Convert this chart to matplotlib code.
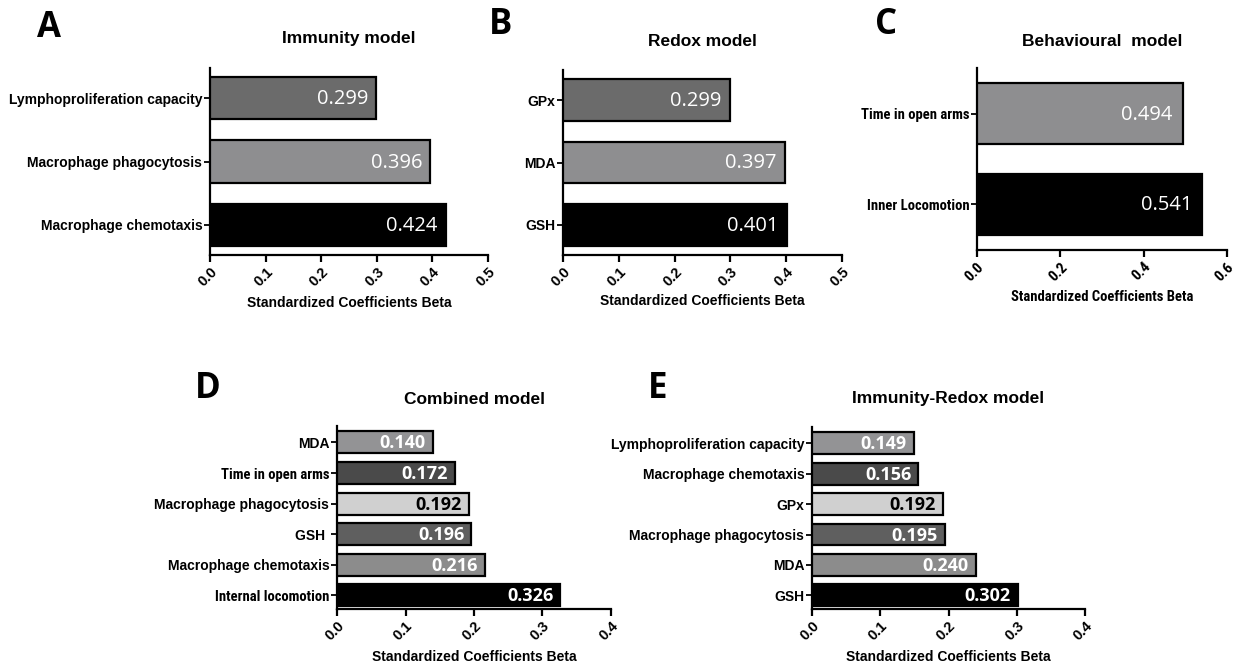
import matplotlib
matplotlib.use("Agg")
import matplotlib.pyplot as plt
from matplotlib import font_manager as fm
from matplotlib.font_manager import FontProperties

W, H = 1234, 667

# ---------------- data ----------------
A_title = "Immunity model"
A_cats = ["Lymphoproliferation capacity", "Macrophage phagocytosis", "Macrophage chemotaxis"]
A_vals = [0.299, 0.396, 0.424]
A_cols = ["#6b6b6b", "#8e8e90", "#000000"]
A_ticks = [0.0, 0.1, 0.2, 0.3, 0.4, 0.5]

B_title = "Redox model"
B_cats = ["GPx", "MDA", "GSH"]
B_vals = [0.299, 0.397, 0.401]
B_cols = ["#6b6b6b", "#8e8e90", "#000000"]
B_ticks = [0.0, 0.1, 0.2, 0.3, 0.4, 0.5]

C_title = "Behavioural  model"
C_cats = ["Time in open arms", "Inner Locomotion"]
C_vals = [0.494, 0.541]
C_cols = ["#8e8e90", "#000000"]
C_ticks = [0.0, 0.2, 0.4, 0.6]

D_title = "Combined model"
D_cats = ["MDA", "Time in open arms", "Macrophage phagocytosis", "GSH ",
          "Macrophage chemotaxis", "Internal locomotion"]
D_vals = [0.140, 0.172, 0.192, 0.196, 0.216, 0.326]
D_cols = ["#939395", "#4a4a4a", "#d0d0d0", "#5f5f5f", "#8c8c8c", "#000000"]
D_txt = ["white", "white", "black", "white", "white", "white"]
D_ticks = [0.0, 0.1, 0.2, 0.3, 0.4]

E_title = "Immunity-Redox model"
E_cats = ["Lymphoproliferation capacity", "Macrophage chemotaxis", "GPx",
          "Macrophage phagocytosis", "MDA", "GSH"]
E_vals = [0.149, 0.156, 0.192, 0.195, 0.240, 0.302]
E_cols = ["#939395", "#4a4a4a", "#d0d0d0", "#5f5f5f", "#8c8c8c", "#000000"]
E_txt = ["white", "white", "black", "white", "white", "white"]
E_ticks = [0.0, 0.1, 0.2, 0.3, 0.4]

XLABEL = "Standardized Coefficients Beta"

SANS = ["Liberation Sans", "DejaVu Sans"]
VALF = ["Open Sans", "DejaVu Sans"]
LETTERF = ["Open Sans", "DejaVu Sans"]

# find a condensed bold font if one is installed
NARROW_PATH = None
_cands = []
for f in fm.fontManager.ttflist:
    st = str(f.stretch)
    if ("Narrow" in f.name or "Condensed" in f.name or st in ("condensed", "semi-condensed")) \
            and (f.weight in ("bold", 700) or str(f.weight) == "700") and f.style == "normal":
        _cands.append(f)
pref = ["Liberation Sans Narrow", "Roboto Condensed", "Open Sans Condensed", "DejaVu Sans"]
_cands.sort(key=lambda f: pref.index(f.name) if f.name in pref else 99)
if _cands:
    NARROW_PATH = _cands[0].fname


def narrow_fp(size):
    if NARROW_PATH:
        return FontProperties(fname=NARROW_PATH, size=size)
    return FontProperties(family=SANS, weight="bold", size=size * 0.9)


def sans_fp(size):
    return FontProperties(family=SANS, weight="bold", size=size)


fig = plt.figure(figsize=(W / 100, H / 100), dpi=100)
fig.patch.set_facecolor("white")


def px_text(x, y, s, **kw):
    fig.text(x / W, 1 - y / H, s, **kw)


def panel(box, cats, vals, cols, ticks, title, letter, letter_xy, title_y, xlabel_y,
          txtcols=None, val_size=14.5, val_weight="normal", bar_h=0.67,
          ylim=None, narrow_cats=(), narrow_axis=False, val_off=-8):
    x0, x1, y0, y1 = box
    ax = fig.add_axes([x0 / W, 1 - y1 / H, (x1 - x0) / W, (y1 - y0) / H])
    n = len(cats)
    pos = list(range(n))
    ax.barh(pos, vals, height=bar_h, color=cols, edgecolor="black", linewidth=1.6, zorder=3)
    ax.set_xlim(ticks[0], ticks[-1])
    if ylim is None:
        ylim = (n - 1 + 0.48, -0.48)
    ax.set_ylim(*ylim)
    for s in ["top", "right"]:
        ax.spines[s].set_visible(False)
    for s in ["left", "bottom"]:
        ax.spines[s].set_linewidth(1.6)
    ax.set_yticks(pos)
    ax.set_yticklabels(cats)
    ax.set_xticks(ticks)
    ax.set_xticklabels([f"{t:.1f}" for t in ticks])
    ax.tick_params(axis="y", length=4, width=1.3, pad=1.5)
    ax.tick_params(axis="x", length=5, width=1.6, pad=2)
    for lab, c in zip(ax.get_yticklabels(), cats):
        if narrow_axis or c in narrow_cats:
            lab.set_fontproperties(narrow_fp(10.5))
        else:
            lab.set_fontproperties(sans_fp(10))
    for lab in ax.get_xticklabels():
        lab.set_fontproperties(narrow_fp(11) if narrow_axis else sans_fp(10.5))
        lab.set_rotation(45)
        lab.set_ha("right")
        lab.set_va("top")
        lab.set_rotation_mode("anchor")
    if txtcols is None:
        txtcols = ["white"] * n
    for p, v, tc in zip(pos, vals, txtcols):
        ax.annotate(f"{v:.3f}", xy=(v, p), xytext=(val_off, -1), textcoords="offset pixels",
                    ha="right", va="center", color=tc, fontsize=val_size,
                    fontweight=val_weight, family=VALF, zorder=4)
    cx = (x0 + x1) / 2
    px_text(cx, title_y, title, ha="center", va="center", fontsize=12.5,
            fontweight="bold", family=SANS)
    px_text(cx, xlabel_y, XLABEL, ha="center", va="center",
            fontproperties=narrow_fp(10.5) if narrow_axis else sans_fp(10))
    px_text(letter_xy[0], letter_xy[1], letter, ha="center", va="center",
            fontsize=25, fontweight="bold", family=LETTERF)
    return ax


panel((210, 488, 68, 255), A_cats, A_vals, A_cols, A_ticks, A_title, "A", (49, 28), 38, 303)
panel((563, 842, 70, 255), B_cats, B_vals, B_cols, B_ticks, B_title, "B", (501, 25), 42, 301)
panel((977, 1227, 68, 250), C_cats, C_vals, C_cols, C_ticks, C_title, "C", (886, 25), 42, 297,
      bar_h=0.68, ylim=(1.5, -0.5), narrow_axis=True, val_off=-10)
panel((337, 611, 426, 609), D_cats, D_vals, D_cols, D_ticks, D_title, "D", (208, 389), 399, 657,
      txtcols=D_txt, val_size=13, val_weight="bold", bar_h=0.72, ylim=(5.45, -0.54),
      narrow_cats=("Time in open arms", "Internal locomotion"), val_off=-7)
panel((812, 1085, 427, 609), E_cats, E_vals, E_cols, E_ticks, E_title, "E", (658, 389), 399, 657,
      txtcols=E_txt, val_size=13, val_weight="bold", bar_h=0.72, ylim=(5.45, -0.54), val_off=-7)

fig.savefig("out.png", dpi=100, facecolor="white")
